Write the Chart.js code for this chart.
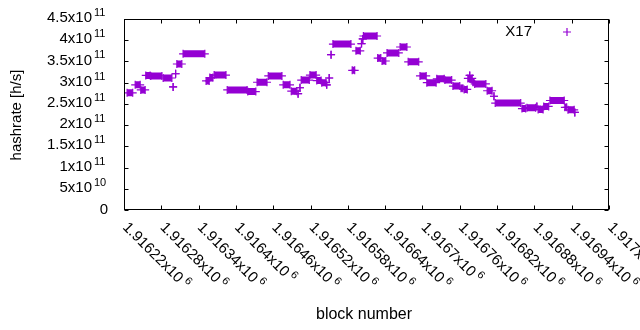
<!DOCTYPE html>
<html>
<head>
<meta charset="utf-8">
<script src="https://cdn.jsdelivr.net/npm/chart.js@4/dist/chart.umd.min.js"></script>
<style>
  html, body { margin: 0; padding: 0; background: #fff; }
  canvas { display: block; }
</style>
</head>
<body>
<canvas id="chart" width="640" height="330"></canvas>
<script>
// Runs of blocks sharing one hashrate value
const runStart = [1916225, 1916238, 1916247, 1916255, 1916263, 1916283, 1916299, 1916303, 1916305, 1916315,
  1916352, 1916358, 1916365, 1916386, 1916419, 1916434, 1916452, 1916476, 1916489, 1916500,
  1916503, 1916505, 1916519, 1916530, 1916538, 1916546, 1916550, 1916553, 1916556, 1916587,
  1916593, 1916602, 1916604, 1916605, 1916628, 1916635, 1916643, 1916664, 1916677, 1916696,
  1916707, 1916723, 1916736, 1916749, 1916762, 1916767, 1916773, 1916776, 1916781, 1916784,
  1916804, 1916815, 1916817, 1916860, 1916868, 1916884, 1916886, 1916895, 1916905, 1916929,
  1916934, 1916945];
const runEnd = [1916234, 1916246, 1916254, 1916262, 1916281, 1916297, 1916299, 1916303, 1916313, 1916350,
  1916357, 1916363, 1916384, 1916418, 1916432, 1916450, 1916474, 1916487, 1916498, 1916500,
  1916503, 1916518, 1916529, 1916537, 1916545, 1916546, 1916550, 1916553, 1916585, 1916591,
  1916600, 1916602, 1916604, 1916627, 1916633, 1916641, 1916662, 1916675, 1916694, 1916706,
  1916722, 1916735, 1916747, 1916760, 1916765, 1916772, 1916780, 1916776, 1916783, 1916802,
  1916812, 1916815, 1916858, 1916866, 1916882, 1916884, 1916894, 1916903, 1916928, 1916932,
  1916944, 1916945];
const runHashrate = [2.76e11, 2.95e11, 2.83e11, 3.17e11, 3.16e11, 3.11e11, 2.90e11, 3.21e11, 3.44e11, 3.68e11,
  3.04e11, 3.12e11, 3.18e11, 2.83e11, 2.79e11, 3.01e11, 3.16e11, 2.95e11, 2.80e11, 2.74e11,
  2.88e11, 3.06e11, 3.18e11, 3.05e11, 3.00e11, 2.95e11, 3.11e11, 3.66e11, 3.91e11, 3.29e11,
  3.75e11, 3.92e11, 4.03e11, 4.10e11, 3.58e11, 3.51e11, 3.70e11, 3.84e11, 3.49e11, 3.16e11,
  3.00e11, 3.09e11, 3.06e11, 2.92e11, 2.87e11, 2.84e11, 3.10e11, 3.17e11, 3.01e11, 2.97e11,
  2.81e11, 2.68e11, 2.52e11, 2.39e11, 2.41e11, 2.44e11, 2.37e11, 2.44e11, 2.58e11, 2.42e11,
  2.36e11, 2.30e11];

// Axis ticks
const xTickValues = [1916220, 1916280, 1916340, 1916400, 1916460, 1916520, 1916580,
  1916640, 1916700, 1916760, 1916820, 1916880, 1916940, 1917000];
const xTickMantissa = ["1.91622x10", "1.91628x10", "1.91634x10", "1.9164x10", "1.91646x10", "1.91652x10",
  "1.91658x10", "1.91664x10", "1.9167x10", "1.91676x10", "1.91682x10", "1.91688x10", "1.91694x10", "1.917x10"];
const xTickExponent = "6";
const yTickValues = [0, 5e10, 1e11, 1.5e11, 2e11, 2.5e11, 3e11, 3.5e11, 4e11, 4.5e11];
const yTickMantissa = ["0", "5x10", "1x10", "1.5x10", "2x10", "2.5x10", "3x10", "3.5x10", "4x10", "4.5x10"];
const yTickExponent = ["", "10", "11", "11", "11", "11", "11", "11", "11", "11"];

const PURPLE = "#9400d3";
const FONT = "'Liberation Sans', Arial, sans-serif";

// each run: first block, last block, then a gap so runs are not joined
const points = [];
runStart.forEach((s, i) => {
  points.push({ x: s, y: runHashrate[i] });
  points.push({ x: runEnd[i], y: runHashrate[i] });
  points.push({ x: runEnd[i], y: null });
});

// ----------------- Frame, ticks, labels (gnuplot look) ----------------
const gnuplotFrame = {
  id: "gnuplotFrame",
  afterDraw(chart) {
    const { ctx, chartArea: a, scales } = chart;
    const xs = scales.x, ys = scales.y;
    const L = Math.round(a.left) + 0.5, R = Math.round(a.right) - 0.5;
    const T = Math.round(a.top) + 0.5, B = Math.round(a.bottom) - 0.5;
    const tick = 4;

    ctx.save();
    ctx.strokeStyle = "#000";
    ctx.lineWidth = 1;
    ctx.strokeRect(L, T, R - L, B - T);

    ctx.beginPath();
    xTickValues.forEach((v) => {
      const px = Math.round(xs.getPixelForValue(v)) + 0.5;
      ctx.moveTo(px, B); ctx.lineTo(px, B - tick);
      ctx.moveTo(px, T); ctx.lineTo(px, T + tick);
    });
    yTickValues.forEach((v) => {
      const py = Math.round(ys.getPixelForValue(v)) + 0.5;
      ctx.moveTo(L, py); ctx.lineTo(L + tick, py);
      ctx.moveTo(R, py); ctx.lineTo(R - tick, py);
    });
    ctx.stroke();

    ctx.fillStyle = "#000";
    ctx.textBaseline = "middle";

    // y tick labels
    yTickValues.forEach((v, i) => {
      const py = ys.getPixelForValue(v);
      ctx.font = "15px " + FONT;
      ctx.textAlign = "right";
      if (!yTickExponent[i]) {
        ctx.fillText(yTickMantissa[i], 108, py);
        return;
      }
      ctx.fillText(yTickMantissa[i], 92, py - 1);
      ctx.font = "11px " + FONT;
      ctx.textAlign = "left";
      ctx.fillText(yTickExponent[i], 94, py - 6);
    });

    // x tick labels, rotated 45deg clockwise
    xTickValues.forEach((v, i) => {
      const px = xs.getPixelForValue(v);
      ctx.save();
      ctx.translate(px + 1, 225);
      ctx.rotate(Math.PI / 4);
      ctx.font = "15px " + FONT;
      ctx.textAlign = "left";
      ctx.fillText(xTickMantissa[i], 0, 0);
      const w = ctx.measureText(xTickMantissa[i]).width;
      ctx.font = "11px " + FONT;
      ctx.fillText(xTickExponent, w + 3, -5);
      ctx.restore();
    });

    // axis titles
    ctx.font = "16px " + FONT;
    ctx.textAlign = "center";
    ctx.fillText("block number", 364, 315);
    ctx.font = "15px " + FONT;
    ctx.save();
    ctx.translate(17, 115);
    ctx.rotate(-Math.PI / 2);
    ctx.fillText("hashrate [h/s]", 0, 0);
    ctx.restore();

    // key
    const ds = chart.data.datasets[0];
    ctx.textAlign = "right";
    ctx.fillText(ds.label, 532, 32);
    ctx.strokeStyle = PURPLE;
    ctx.lineWidth = 1.2;
    ctx.beginPath();
    ctx.moveTo(563, 32); ctx.lineTo(571, 32);
    ctx.moveTo(567, 28); ctx.lineTo(567, 36);
    ctx.stroke();
    ctx.restore();
  }
};

new Chart(document.getElementById("chart"), {
  type: "line",
  data: {
    datasets: [{
      label: "X17",
      data: points,
      borderColor: PURPLE,
      backgroundColor: PURPLE,
      borderWidth: 7,
      borderCapStyle: "butt",
      spanGaps: false,
      pointStyle: "cross",
      pointRadius: 4,
      pointBorderWidth: 1.2,
      pointBorderColor: PURPLE,
      tension: 0
    }]
  },
  options: {
    responsive: false,
    animation: false,
    devicePixelRatio: 1,
    layout: { padding: { left: 124, right: 31, top: 19, bottom: 120 } },
    plugins: { legend: { display: false }, tooltip: { enabled: false } },
    scales: {
      x: { type: "linear", min: 1916220, max: 1917000, display: false },
      y: { type: "linear", min: 0, max: 4.5e11, display: false }
    }
  },
  plugins: [gnuplotFrame]
});
</script>
</body>
</html>
